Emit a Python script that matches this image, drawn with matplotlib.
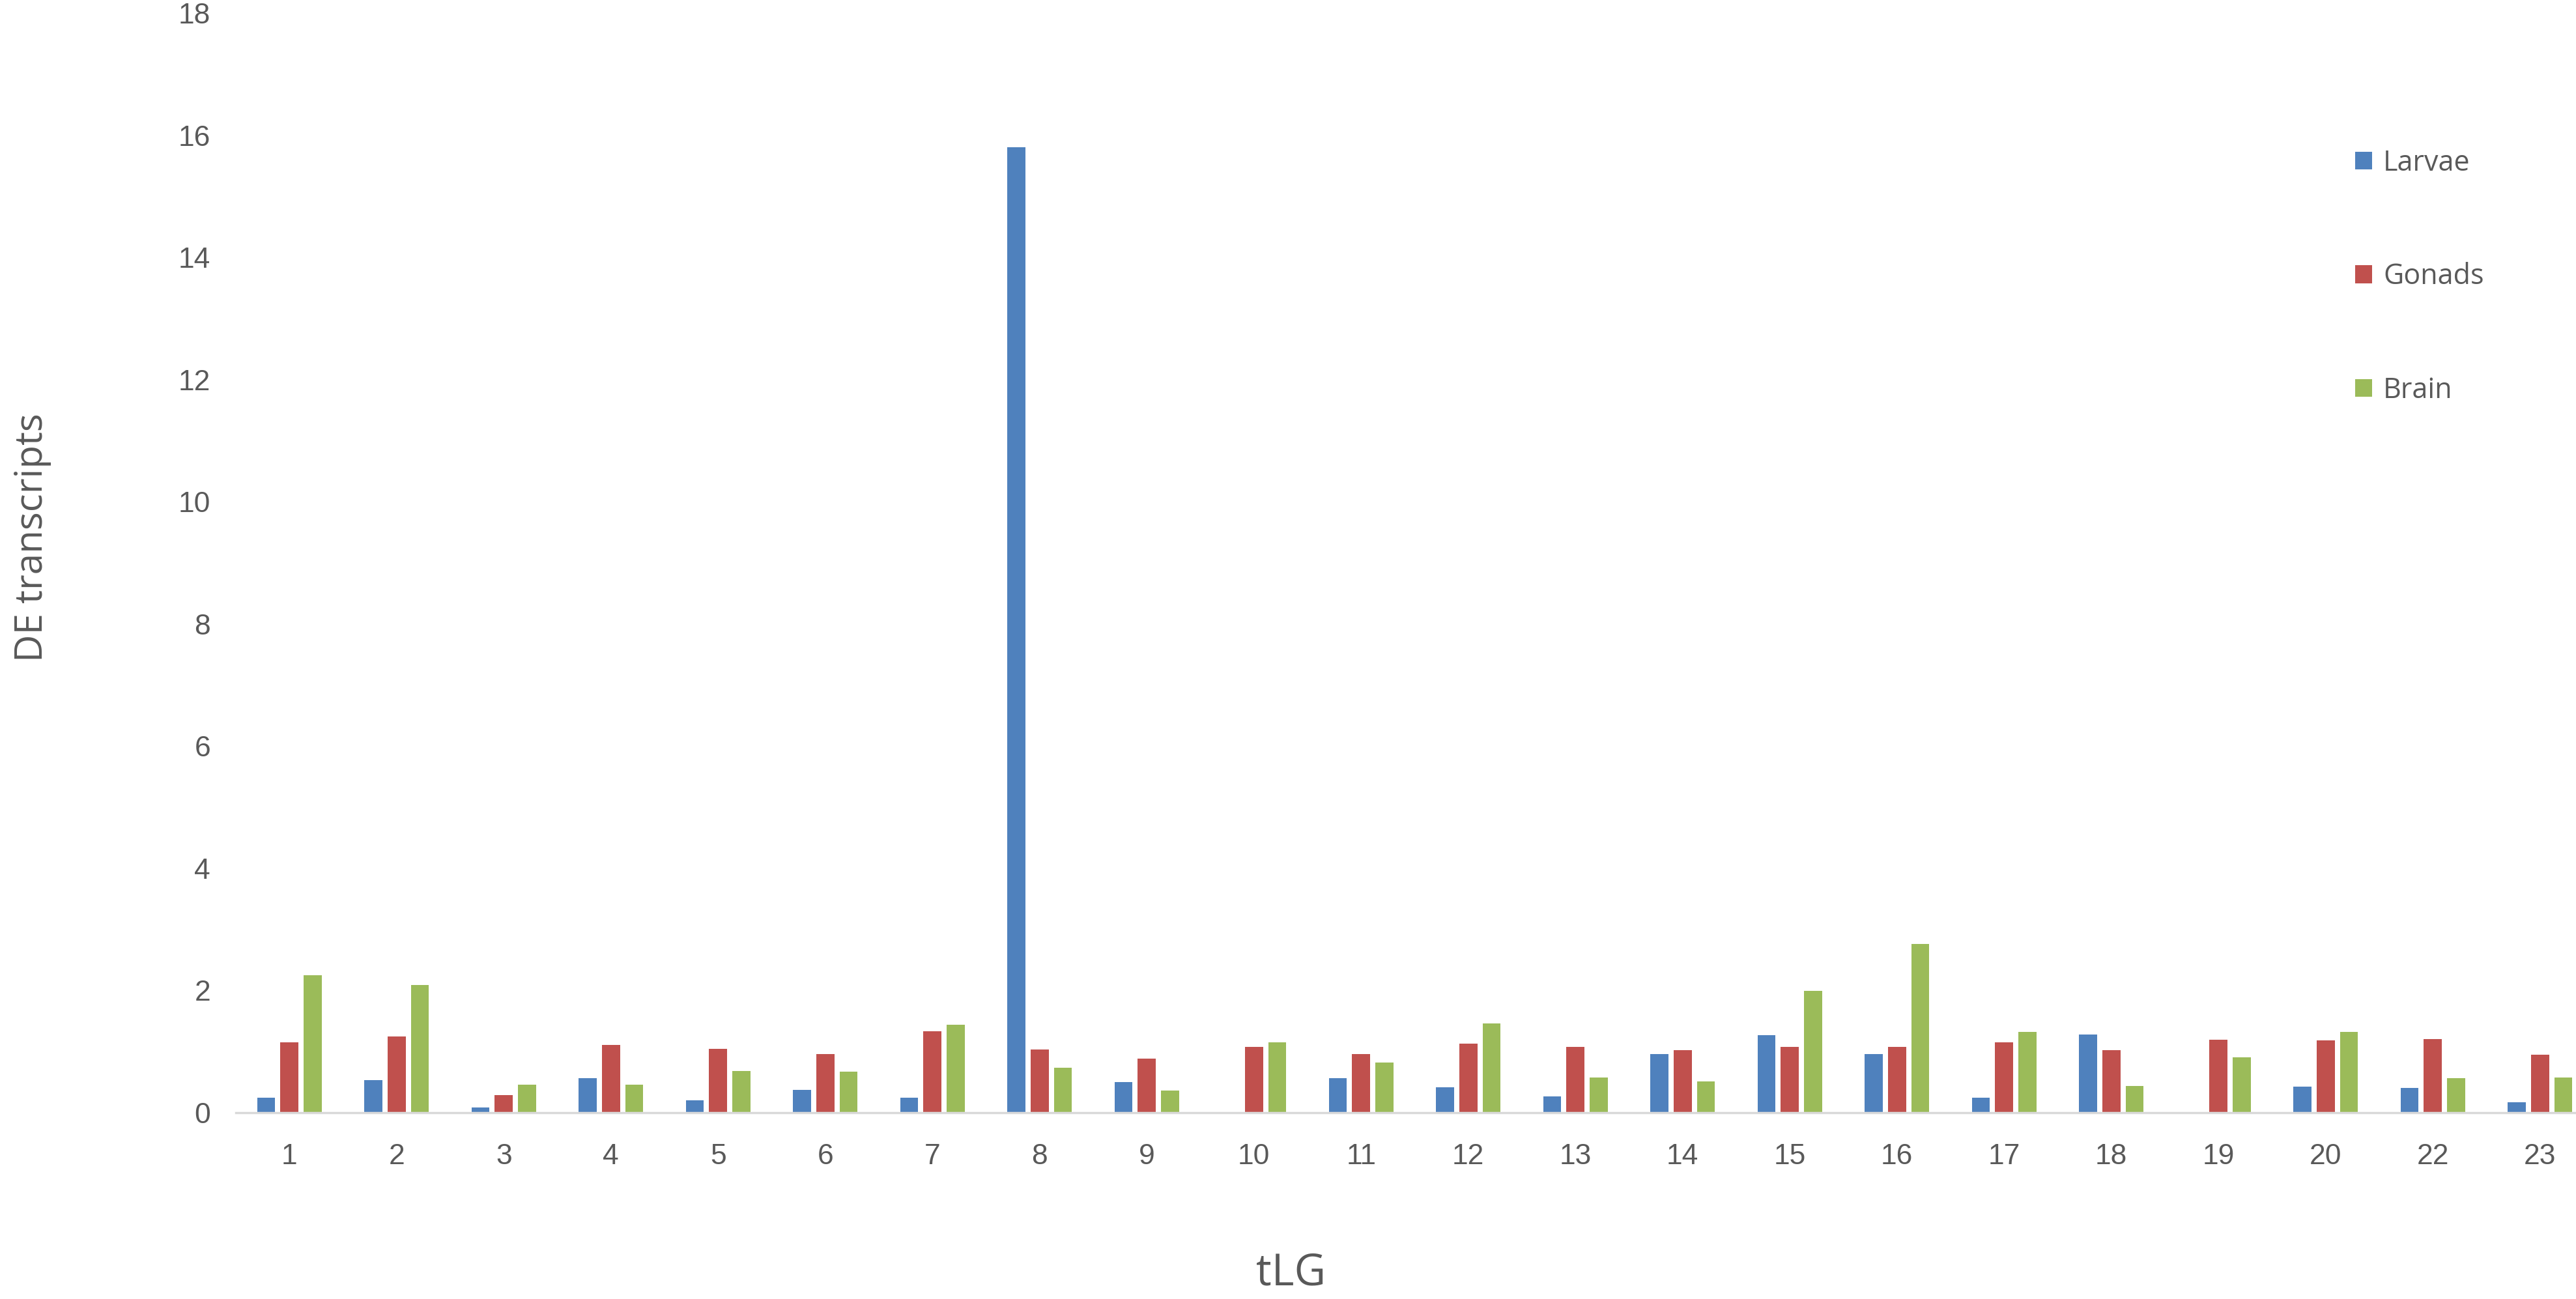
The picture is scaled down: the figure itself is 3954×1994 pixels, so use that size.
import matplotlib
matplotlib.use("Agg")
import matplotlib.pyplot as plt
import numpy as np
from matplotlib.patches import Patch

categories = ["1", "2", "3", "4", "5", "6", "7", "8", "9", "10", "11",
              "12", "13", "14", "15", "16", "17", "18", "19", "20", "22", "23"]
larvae = [0.25, 0.53, 0.08, 0.565, 0.20, 0.37, 0.25, 15.8, 0.50, 0.0, 0.57,
          0.42, 0.27, 0.96, 1.265, 0.96, 0.25, 1.28, 0.0, 0.43, 0.40, 0.175]
gonads = [1.155, 1.25, 0.29, 1.11, 1.05, 0.96, 1.33, 1.03, 0.885, 1.08, 0.96,
          1.13, 1.08, 1.02, 1.08, 1.08, 1.155, 1.02, 1.19, 1.18, 1.21, 0.95]
brain = [2.25, 2.09, 0.455, 0.455, 0.68, 0.67, 1.44, 0.74, 0.36, 1.155, 0.82,
         1.46, 0.576, 0.51, 1.99, 2.76, 1.32, 0.44, 0.91, 1.32, 0.57, 0.576]
series_names = ["Larvae", "Gonads", "Brain"]
y_ticks = [0, 2, 4, 6, 8, 10, 12, 14, 16, 18]

colors = ["#4F81BD", "#C0504D", "#9BBB59"]
text_color = "#595959"

W, H = 3954, 1994
dpi = 100
fig = plt.figure(figsize=(W / dpi, H / dpi), dpi=dpi)
fig.patch.set_facecolor("white")

left_px = 362
spacing_px = 164.5
bottom = (H - 1708) / H
top = (H - 20) / H
ax = fig.add_axes([left_px / W, bottom, len(categories) * spacing_px / W, top - bottom])

x = np.arange(len(categories))
bw = 0.168
step = 0.217
for i, (vals, c, name) in enumerate(zip([larvae, gonads, brain], colors, series_names)):
    ax.bar(x + (i - 1) * step, vals, width=bw, color=c, label=name, zorder=2)

ax.set_xlim(-0.5, len(categories) - 0.5)
ax.set_ylim(0, 18)
ax.set_yticks(y_ticks)
ax.set_yticklabels([str(t) for t in y_ticks], fontsize=32, color=text_color,
                   family="Liberation Sans")
ax.set_xticks(x)
ax.set_xticklabels(categories, fontsize=32, color=text_color, family="Liberation Sans")
ax.tick_params(axis="both", length=0)
ax.tick_params(axis="y", pad=28)
ax.tick_params(axis="x", pad=34)

for s in ["top", "right", "left"]:
    ax.spines[s].set_visible(False)
ax.spines["bottom"].set_color("#D9D9D9")
ax.spines["bottom"].set_linewidth(2.5)

fig.text(1982 / W, 1 - 1955 / H, "tLG", ha="center", va="center", fontsize=48,
         color=text_color, family="Open Sans")
fig.text(50 / W, 1 - 825 / H, "DE transcripts", ha="center", va="center", fontsize=42,
         color=text_color, family="Open Sans", rotation=90)

handles = [Patch(facecolor=c, edgecolor="none") for c in colors]
leg = fig.legend(handles, series_names, loc="upper left",
                 bbox_to_anchor=(3615 / W, 1 - 228 / H),
                 frameon=False, handlelength=0.6, handleheight=0.6,
                 handletextpad=0.4, labelspacing=3.02, borderpad=0, borderaxespad=0,
                 prop={"family": "Open Sans", "size": 31})
for t in leg.get_texts():
    t.set_color(text_color)

fig.savefig("out.png", dpi=dpi, facecolor="white")
